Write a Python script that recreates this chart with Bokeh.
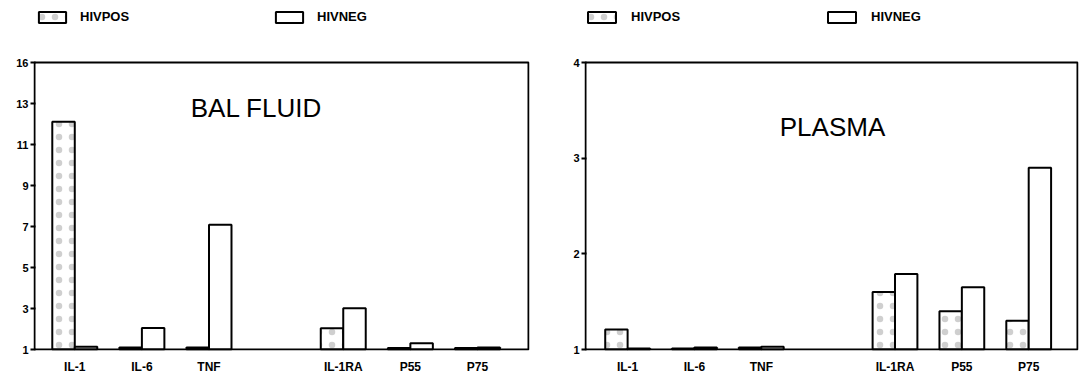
from bokeh.plotting import figure
from bokeh.layouts import row
from bokeh.models import (ColumnDataSource, FixedTicker, Range1d, Legend,
                          LegendItem, Label, BoxAnnotation)
from bokeh.transform import dodge
from bokeh.embed import file_html
from bokeh.resources import INLINE

NaN = float("nan")

# ---- data -----------------------------------------------------------
categories = ["IL-1", "IL-6", "TNF", "", "IL-1RA", "P55", "P75"]
series_names = ["HIVPOS", "HIVNEG"]

bal_hivpos = [12.9, 1.10, 1.10, NaN, 2.11, 1.08, 1.08]
bal_hivneg = [1.15, 2.13, 7.52, NaN, 3.16, 1.33, 1.10]

plasma_hivpos = [1.21, 1.01, 1.02, NaN, 1.60, 1.40, 1.30]
plasma_hivneg = [1.01, 1.02, 1.03, NaN, 1.79, 1.65, 2.90]

bal_tick_labels = ["1", "3", "5", "7", "9", "11", "13", "16"]
plasma_tick_labels = ["1", "2", "3", "4"]

FONT = "Liberation Sans"
BAR_W = 0.335
FIG_H = 376
BOX_TOP = 62      # px from top of figure to top of the chart box
BOX_BOTTOM = 349  # px from top of figure to bottom of the chart box


def make_chart(title, pos, neg, y_end, tick_labels, x_start, x_end,
               box_left, box_w, fig_w, title_xy, legend_x,
               glyph_w, standoff, spacing):
    idx = list(range(len(categories)))
    src = ColumnDataSource(dict(idx=idx, cat=categories, pos=pos, neg=neg))

    # frame spans from the very top of the figure (so the legend is inside it)
    # and 1px beyond the chart box on left/right/bottom
    px_x = box_w / (x_end - x_start)
    box_h = BOX_BOTTOM - BOX_TOP
    px_y = box_h / (y_end - 1)
    fr_left = box_left - 1
    fr_w = box_w + 2
    fr_h = BOX_BOTTOM + 1
    xr = Range1d(x_start - 1 / px_x, x_end + 1 / px_x)
    yr = Range1d(1 - 1 / px_y, y_end + BOX_TOP / px_y)

    p = figure(width=fig_w, height=FIG_H, x_range=xr, y_range=yr,
               output_backend="svg", toolbar_location=None,
               min_border_left=fr_left, min_border_right=fig_w - fr_left - fr_w,
               min_border_top=0, min_border_bottom=FIG_H - fr_h)
    p.xgrid.visible = False
    p.ygrid.visible = False
    p.outline_line_color = None
    p.background_fill_color = "white"
    p.border_fill_color = "white"

    p.add_layout(BoxAnnotation(left=x_start, right=x_end, bottom=1, top=y_end,
                               fill_color=None, fill_alpha=0,
                               line_color="black", line_alpha=1,
                               line_width=2))

    r1 = p.vbar(x=dodge("idx", -BAR_W / 2), top="pos", bottom=1, width=BAR_W,
                source=src, fill_color="white", line_color="black",
                line_width=2, hatch_pattern="dot", hatch_scale=13,
                hatch_color="#888888", hatch_weight=1, hatch_alpha=0.4)
    r2 = p.vbar(x=dodge("idx", BAR_W / 2), top="neg", bottom=1, width=BAR_W,
                source=src, fill_color="white", line_color="black",
                line_width=2)

    # y axis
    n = len(tick_labels) - 1
    ticks = [1 + (y_end - 1) * k / n for k in range(n + 1)]
    p.yaxis.ticker = FixedTicker(ticks=ticks)
    p.yaxis.major_label_overrides = {t: l for t, l in zip(ticks, tick_labels)}
    p.yaxis.minor_tick_line_color = None
    p.yaxis.major_tick_out = 3
    p.yaxis.major_tick_in = 2
    p.yaxis.major_tick_line_width = 2
    p.yaxis.major_tick_line_color = "black"
    p.yaxis.axis_line_color = None
    p.yaxis.major_label_standoff = 2
    p.yaxis.major_label_text_font = FONT
    p.yaxis.major_label_text_font_style = "bold"
    p.yaxis.major_label_text_font_size = "11px"
    p.yaxis.major_label_text_color = "black"

    # x axis
    xt = [i for i, c in enumerate(categories) if c]
    p.xaxis.ticker = FixedTicker(ticks=xt)
    p.xaxis.major_label_overrides = {i: categories[i] for i in xt}
    p.xaxis.major_tick_line_color = None
    p.xaxis.minor_tick_line_color = None
    p.xaxis.axis_line_color = None
    p.xaxis.major_label_standoff = 3
    p.xaxis.major_label_text_font = FONT
    p.xaxis.major_label_text_font_style = "bold"
    p.xaxis.major_label_text_font_size = "12px"
    p.xaxis.major_label_text_color = "black"

    p.add_layout(Label(x=title_xy[0], y=title_xy[1], text=title,
                       text_align="center", text_baseline="middle",
                       text_font=FONT, text_font_size="26px",
                       text_color="black"))

    legend = Legend(items=[LegendItem(label=series_names[0], renderers=[r1]),
                           LegendItem(label=series_names[1], renderers=[r2])],
                    location=(legend_x, fr_h - 10 - 14),
                    orientation="horizontal",
                    glyph_width=glyph_w, glyph_height=14, label_height=14,
                    label_width=150, label_standoff=standoff, spacing=spacing,
                    padding=0, margin=0, border_line_color=None,
                    background_fill_alpha=0, label_text_font=FONT,
                    label_text_font_style="bold", label_text_color="black",
                    label_text_font_size="13px")
    p.add_layout(legend, "center")
    return p


p1 = make_chart("BAL FLUID", bal_hivpos, bal_hivneg, 16, bal_tick_labels,
                -0.6, 6.76, 34, 494, 548, (2.707, 13.62), 2, 34, 11, 42)
p2 = make_chart("PLASMA", plasma_hivpos, plasma_hivneg, 4, plasma_tick_labels,
                -0.63, 6.73, 37, 492, 531, (3.065, 3.325), 0, 35, 12, 43)

layout = row(p1, p2)
open("out.html", "w").write(file_html(layout, INLINE))
